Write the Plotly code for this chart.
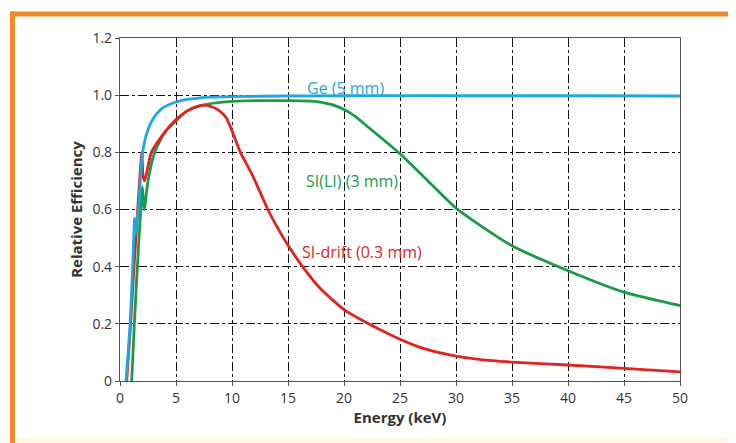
import plotly.graph_objects as go

# ---- data ----
ge_x = [0.54, 0.9, 1.13, 1.3, 1.33, 1.4, 1.64, 2.02, 2.5, 3.0, 3.5, 4.0, 5.0, 6.0, 7.0, 8.0, 10.0, 15.0, 20.0, 30.0, 40.0, 50.0]
ge_y = [0.0, 0.2, 0.4, 0.57, 0.51, 0.53, 0.6, 0.8, 0.88, 0.92, 0.945, 0.96, 0.976, 0.985, 0.99, 0.993, 0.995, 0.997, 0.998, 0.998, 0.998, 0.997]

sdd_x = [0.6, 0.95, 1.25, 1.58, 1.95, 2.05, 2.2, 2.8, 3.87, 5.0, 6.0, 7.0, 7.5, 8.0, 8.8, 9.5, 10.0, 10.75, 11.8, 13.2, 14.2, 15.0, 16.3, 17.8, 20.0, 22.2, 23.1, 25.0, 27.0, 30.0, 32.0, 35.0, 40.0, 45.0, 50.0]
sdd_y = [0.0, 0.2, 0.4, 0.6, 0.8, 0.72, 0.7, 0.8, 0.864, 0.915, 0.945, 0.962, 0.965, 0.962, 0.948, 0.92, 0.875, 0.8, 0.722, 0.6, 0.527, 0.475, 0.4, 0.327, 0.25, 0.2, 0.182, 0.146, 0.115, 0.087, 0.076, 0.066, 0.056, 0.044, 0.032]

sili_x = [1.04, 1.28, 1.55, 1.85, 2.0, 2.1, 2.17, 2.5, 3.1, 4.0, 5.0, 6.0, 7.4, 10.0, 15.0, 17.0, 18.0, 19.0, 20.0, 21.0, 22.2, 23.1, 25.0, 27.5, 30.0, 35.0, 40.0, 45.0, 50.0]
sili_y = [0.0, 0.2, 0.4, 0.6, 0.68, 0.62, 0.6, 0.7, 0.8, 0.87, 0.91, 0.945, 0.965, 0.978, 0.981, 0.979, 0.975, 0.966, 0.95, 0.926, 0.887, 0.858, 0.795, 0.7, 0.605, 0.473, 0.386, 0.311, 0.264]

x_ticks = [0, 5, 10, 15, 20, 25, 30, 35, 40, 45, 50]
y_ticks = [0, 0.2, 0.4, 0.6, 0.8, 1.0, 1.2]
y_tick_text = ["0", "0.2", "0.4", "0.6", "0.8", "1.0", "1.2"]

labels = ["Ge (5 mm)", "SI(LI) (3 mm)", "SI-drift (0.3 mm)"]
label_x = [20.1, 20.7, 21.6]
label_y = [1.025, 0.70, 0.451]

BLUE = "#1FA7E1"
GREEN = "#1B9A4B"
RED = "#E2231F"
ORANGE = "#EE8A2E"
FONT = "Open Sans"

fig = go.Figure()
for xs, ys, col in [(sili_x, sili_y, GREEN), (sdd_x, sdd_y, RED), (ge_x, ge_y, BLUE)]:
    fig.add_trace(go.Scatter(x=xs, y=ys, mode="lines",
                             line=dict(color=col, width=2.8, shape="spline", smoothing=0.6),
                             showlegend=False, hoverinfo="skip"))

for t, lx, ly, col in zip(labels, label_x, label_y, [BLUE, GREEN, RED]):
    fig.add_annotation(x=lx, y=ly, text=t, showarrow=False,
                       font=dict(family=FONT, size=16, color=col))

# layout geometry (page has an 8px body offset)
OFF = 8
L, R, T, B = 112, 64, 30, 70
W, H = 736, 443
pw, ph = W - L - R, H - T - B
def px(x):
    return (x - OFF - L) / pw
def py(y):
    return (H - B - (y - OFF)) / ph

fig.add_shape(type="rect", xref="paper", yref="paper",
              x0=px(10), x1=px(760), y0=py(16.5), y1=py(11.5),
              fillcolor=ORANGE, line_width=0, layer="below")
fig.add_shape(type="rect", xref="paper", yref="paper",
              x0=px(10), x1=px(15), y0=py(460), y1=py(11.5),
              fillcolor=ORANGE, line_width=0, layer="below")
fig.add_shape(type="rect", xref="paper", yref="paper",
              x0=px(15), x1=px(760), y0=py(460), y1=py(437),
              fillcolor="#FFF9E3", line_width=0, layer="below")

axis_common = dict(showline=True, linecolor="#555555", linewidth=1.2, mirror=True,
                   showgrid=True, gridcolor="#111111", gridwidth=1, griddash="dashdot",
                   ticks="outside", ticklen=4, tickcolor="#555555", zeroline=False,
                   tickfont=dict(family=FONT, size=14, color="#333333"))

fig.update_xaxes(range=[0, 50], tickvals=x_ticks, **axis_common,
                 title=dict(text="<b>Energy (keV)</b>", standoff=0,
                            font=dict(family=FONT, size=15, color="#333333")))
fig.update_yaxes(range=[0, 1.2], tickvals=y_ticks, ticktext=y_tick_text, **axis_common,
                 title=dict(text="<b>Relative Efficiency</b>", standoff=6,
                            font=dict(family=FONT, size=15, color="#333333")))

fig.update_layout(width=W, height=H, margin=dict(l=L, r=R, t=T, b=B, autoexpand=False),
                  paper_bgcolor="white", plot_bgcolor="white")

fig.write_html("out.html")
